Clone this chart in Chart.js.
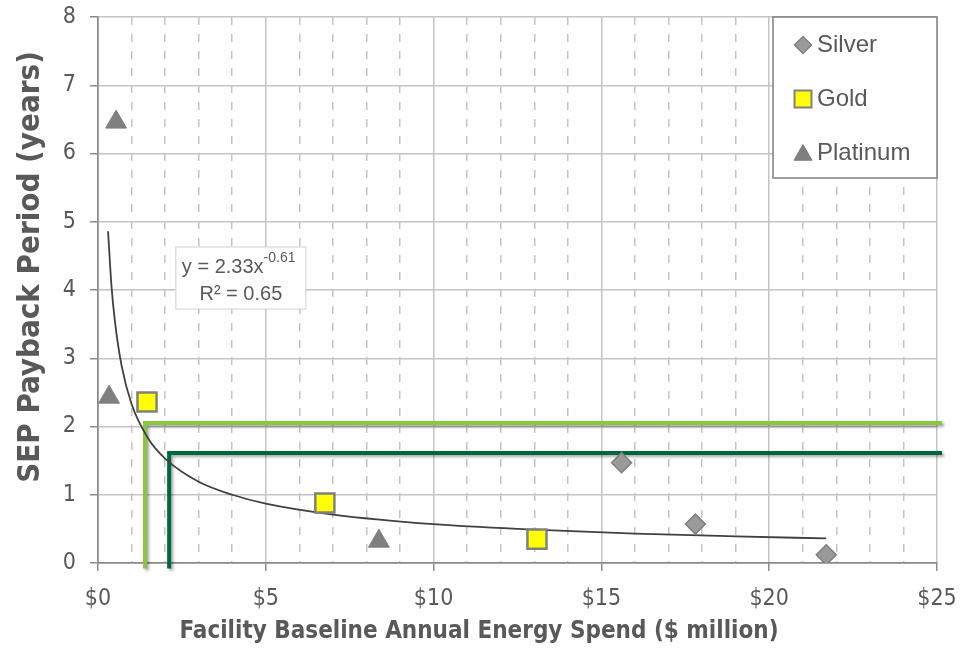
<!DOCTYPE html>
<html>
<head>
<meta charset="utf-8">
<script src="https://cdn.jsdelivr.net/npm/chart.js@4.4.1/dist/chart.umd.min.js"></script>
<style>
    html, body { margin: 0; padding: 0; background: #ffffff; }
    #wrap { position: relative; width: 975px; height: 652px; }
</style>
</head>
<body>
<div id="wrap"><canvas id="chart"></canvas></div>
<script>
// Facility points ($ million spend, payback years)
const silverX = [15.6, 17.8, 21.7];
const silverY = [1.47, 0.57, 0.12];
const goldX = [1.46, 6.76, 13.08];
const goldY = [2.36, 0.88, 0.35];
const platinumX = [0.54, 0.33, 8.37];
const platinumY = [6.46, 2.43, 0.32];

// power trendline
const trendX = [0.3, 0.4, 0.5, 0.7, 1, 1.5, 2, 3, 4, 5, 7, 10, 13, 16, 19, 21.7];
const trendY = [4.86, 4.07, 3.56, 2.90, 2.33, 1.82, 1.53, 1.19, 1.00, 0.87, 0.71, 0.57, 0.49, 0.43, 0.39, 0.36];

// threshold brackets
const lightGreenX = [1.4, 1.4, 25.15];
const lightGreenY = [-0.08, 2.05, 2.05];
const darkGreenX = [2.12, 2.12, 25.15];
const darkGreenY = [-0.08, 1.61, 1.61];

const xTickLabels = ['$0', '$5', '$10', '$15', '$20', '$25'];
const legendLabels = ['Silver', 'Gold', 'Platinum'];
const trendLabel = ['y = 2.33x', '-0.61', 'R\u00B2 = 0.65'];
const xTitle = 'Facility Baseline Annual Energy Spend ($ million)';
const yTitle = 'SEP Payback Period (years)';

const textColor = '#595959';
const narrow = "'Liberation Sans Narrow', 'DejaVu Sans Condensed', Arial, sans-serif";
const sans = "'Liberation Sans', Arial, sans-serif";

const colors = {
    silverFill: '#9a9a9a',
    silverBorder: '#7f7f7f',
    gold: '#ffff00',
    goldBorder: '#808080',
    platinum: '#7f7f7f',
    trend: '#404040',
    lightGreen: '#8cc63f',
    darkGreen: '#00673a',
    grid: '#c4c4c4',
    axis: '#8a8a8a'
};

function pts(xs, ys) {
    return xs.map((x, i) => ({ x: x, y: ys[i] }));
}

const shadowPlugin = {
    id: 'lineShadow',
    beforeDatasetDraw(chart, args) {
        if (!args.meta._dataset.shadow) return;
        const ctx = chart.ctx;
        ctx.save();
        ctx.shadowColor = 'rgba(0,0,0,0.35)';
        ctx.shadowBlur = 3;
        ctx.shadowOffsetX = 2;
        ctx.shadowOffsetY = 2;
    },
    afterDatasetDraw(chart, args) {
        if (!args.meta._dataset.shadow) return;
        chart.ctx.restore();
    }
};

const boxesPlugin = {
    id: 'boxes',
    afterDraw(chart) {
        const ctx = chart.ctx;
        const area = chart.chartArea;
        const xs = chart.scales.x;
        const ys = chart.scales.y;

        ctx.save();

        // axis titles
        ctx.fillStyle = textColor;
        ctx.textAlign = 'center';
        ctx.textBaseline = 'middle';
        ctx.font = 'bold 24px ' + narrow;
        ctx.fillText(xTitle, 479, 632);
        ctx.save();
        ctx.translate(31, 267);
        ctx.rotate(-Math.PI / 2);
        ctx.font = 'bold 31px ' + narrow;
        ctx.fillText(yTitle, 0, 0);
        ctx.restore();

        // legend box
        const lw = 164, lh = 161;
        const lx = area.right - lw, ly = area.top;
        ctx.fillStyle = '#ffffff';
        ctx.fillRect(lx, ly, lw, lh);
        ctx.strokeStyle = '#7f7f7f';
        ctx.lineWidth = 1.5;
        ctx.strokeRect(lx, ly, lw, lh);

        const markers = [
            { pointStyle: 'rectRot', radius: 8.5, fill: colors.silverFill, border: colors.silverBorder, bw: 1.5 },
            { pointStyle: 'rect', radius: 12, fill: colors.gold, border: colors.goldBorder, bw: 2 },
            { pointStyle: 'triangle', radius: 10.5, fill: colors.platinum, border: colors.platinum, bw: 1 }
        ];
        const rowY = [28, 82, 136];
        ctx.font = '24px ' + sans;
        ctx.textBaseline = 'middle';
        ctx.textAlign = 'left';
        markers.forEach((m, i) => {
            const cy = ly + rowY[i];
            ctx.fillStyle = m.fill;
            ctx.strokeStyle = m.border;
            ctx.lineWidth = m.bw;
            Chart.helpers.drawPoint(ctx, { pointStyle: m.pointStyle, radius: m.radius, rotation: 0, borderWidth: m.bw }, lx + 30, cy + (i === 2 ? 2 : 0));
            ctx.fillStyle = textColor;
            ctx.fillText(legendLabels[i], lx + 44, cy);
        });

        // trendline equation box
        const bx = xs.getPixelForValue(2.32);
        const by = ys.getPixelForValue(4.63);
        ctx.fillStyle = '#ffffff';
        ctx.fillRect(bx, by, 130, 62);
        ctx.strokeStyle = '#d0d0d0';
        ctx.lineWidth = 1;
        ctx.strokeRect(bx, by, 130, 62);
        ctx.fillStyle = textColor;
        ctx.textBaseline = 'alphabetic';
        ctx.font = '20px ' + sans;
        ctx.fillText(trendLabel[0], bx + 6, by + 26);
        const w0 = ctx.measureText(trendLabel[0]).width;
        ctx.font = '14px ' + sans;
        ctx.fillText(trendLabel[1], bx + 6 + w0, by + 15);
        ctx.font = '20px ' + sans;
        ctx.textAlign = 'center';
        ctx.fillText(trendLabel[2], bx + 65, by + 53);
        ctx.restore();
    }
};

const ctx = document.getElementById('chart').getContext('2d');

new Chart(ctx, {
    type: 'scatter',
    data: {
        datasets: [
            {
                label: legendLabels[0],
                data: pts(silverX, silverY),
                pointStyle: 'rectRot',
                pointRadius: 10,
                pointHoverRadius: 10,
                backgroundColor: colors.silverFill,
                borderColor: colors.silverBorder,
                borderWidth: 1.5,
                order: 1
            },
            {
                label: legendLabels[1],
                data: pts(goldX, goldY),
                pointStyle: 'rect',
                pointRadius: 13.5,
                pointHoverRadius: 13.5,
                backgroundColor: colors.gold,
                borderColor: colors.goldBorder,
                borderWidth: 2.5,
                order: 1
            },
            {
                label: legendLabels[2],
                data: pts(platinumX, platinumY),
                pointStyle: 'triangle',
                pointRadius: 12,
                pointHoverRadius: 12,
                backgroundColor: colors.platinum,
                borderColor: colors.platinum,
                borderWidth: 1,
                order: 1
            },
            {
                label: 'Trend',
                type: 'line',
                data: pts(trendX, trendY),
                borderColor: colors.trend,
                borderWidth: 1.8,
                pointRadius: 0,
                cubicInterpolationMode: 'monotone',
                fill: false,
                order: 2
            },
            {
                label: 'Light',
                type: 'line',
                data: pts(lightGreenX, lightGreenY),
                borderColor: colors.lightGreen,
                borderWidth: 4,
                pointRadius: 0,
                tension: 0,
                fill: false,
                clip: false,
                shadow: true,
                order: 3
            },
            {
                label: 'Dark',
                type: 'line',
                data: pts(darkGreenX, darkGreenY),
                borderColor: colors.darkGreen,
                borderWidth: 4,
                pointRadius: 0,
                tension: 0,
                fill: false,
                clip: false,
                shadow: true,
                order: 3
            }
        ]
    },
    options: {
        responsive: true,
        maintainAspectRatio: false,
        animation: false,
        layout: { padding: { left: 0, right: 38, top: 17, bottom: 0 } },
        plugins: {
            legend: { display: false },
            tooltip: { enabled: false }
        },
        scales: {
            x: {
                type: 'linear',
                min: 0,
                max: 25,
                afterFit(scale) { scale.height = 89; },
                ticks: {
                    stepSize: 1,
                    autoSkip: false,
                    maxRotation: 0,
                    padding: 14,
                    color: textColor,
                    font: { family: narrow, size: 23 },
                    callback: (v) => (v % 5 === 0 ? xTickLabels[v / 5] : '')
                },
                grid: {
                    color: (c) => (c.tick && c.tick.value === 0 ? colors.axis : colors.grid),
                    lineWidth: 1.5,
                    tickLength: 8,
                    tickColor: (c) => (c.tick && c.tick.value % 5 === 0 ? colors.axis : 'rgba(0,0,0,0)')
                },
                border: {
                    color: colors.axis,
                    width: 1.5,
                    dash: (c) => (c.tick && c.tick.value % 5 !== 0 ? [8, 9] : [])
                },
                title: { display: false }
            },
            y: {
                min: 0,
                max: 8,
                afterFit(scale) {
                    scale.width = 98;
                    scale.paddingTop = 0;
                    scale.paddingBottom = 0;
                },
                ticks: {
                    stepSize: 1,
                    padding: 14,
                    color: textColor,
                    font: { family: narrow, size: 23 }
                },
                grid: {
                    color: (c) => (c.tick && c.tick.value === 0 ? colors.axis : colors.grid),
                    lineWidth: 1.5,
                    tickLength: 8,
                    tickColor: colors.axis
                },
                border: { color: colors.axis, width: 1.5 },
                title: { display: false }
            }
        }
    },
    plugins: [shadowPlugin, boxesPlugin]
});
</script>
</body>
</html>
